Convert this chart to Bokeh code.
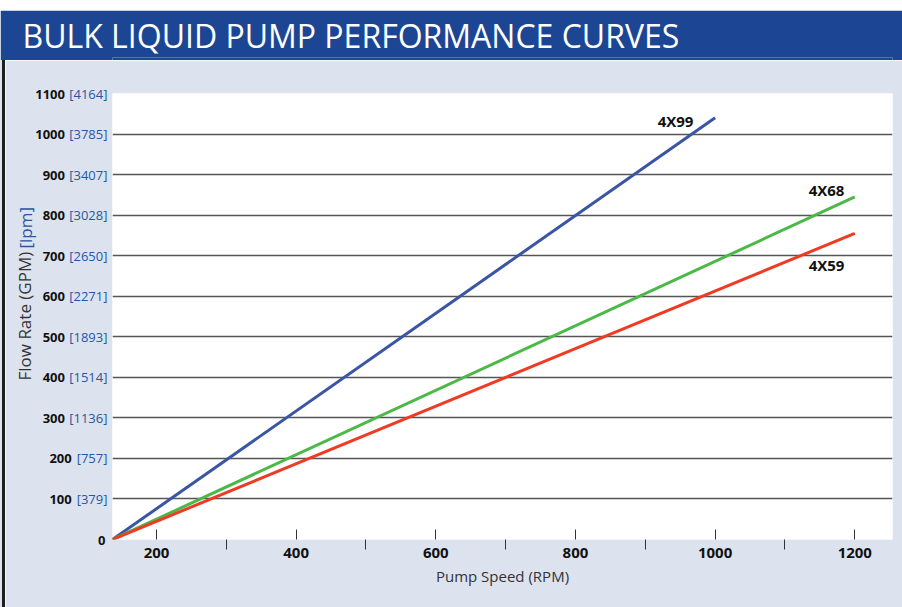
from bokeh.plotting import figure
from bokeh.layouts import column, row
from bokeh.models import (Range1d, FixedTicker, Label, LinearAxis, Title, Spacer)
from bokeh.embed import file_html
from bokeh.resources import INLINE

# ---------------- data ----------------
TITLE = "BULK LIQUID PUMP PERFORMANCE CURVES"
X_TITLE = "Pump Speed (RPM)"
Y_TITLE_MAIN = "Flow Rate (GPM)"
Y_TITLE_UNIT = "[lpm]"

FLOW_TICKS = [0, 100, 200, 300, 400, 500, 600, 700, 800, 900, 1000, 1100]
FLOW_NUM_LABELS = ["0", "100", "200", "300", "400", "500", "600", "700", "800",
                   "900", "1000", "1100"]
FLOW_LPM_LABELS = ["", "[379]", "[757]", "[1136]", "[1514]", "[1893]", "[2271]",
                   "[2650]", "[3028]", "[3407]", "[3785]", "[4164]"]
GRID_TICKS = [100, 200, 300, 400, 500, 600, 700, 800, 900, 1000, 1100]
SPEED_TICKS = [200, 400, 600, 800, 1000, 1200]
SPEED_MINOR = [300, 500, 700, 900, 1100]

MODELS = ["4X99", "4X68", "4X59"]
SPEED_4X99 = [137, 1000]
FLOW_4X99 = [0, 1040]
SPEED_4X68 = [137, 1200]
FLOW_4X68 = [0, 845]
SPEED_4X59 = [137, 1200]
FLOW_4X59 = [0, 755]

X_MIN, X_MAX = 137, 1254
Y_MIN, Y_MAX = 0, 1100

# ---------------- styles ----------------
FONT = "Open Sans"
BAND = "#1c4694"
BG = "#dce3ee"
BLUE_TXT = "#2855a5"
EDGE = "#1e1e1e"
C99 = "#3a55a4"
C68 = "#4cb848"
C59 = "#ef3b24"

# page geometry (pixels)
FL, FR, FT, FB = 112, 892, 93, 539
W, H = 902, 607
BAND_TOP, BAND_BOT = 10, 60
EDGE_L, EDGE_W = 2, 3


def px_x(page_x):
    return X_MIN + (page_x - FL) * (X_MAX - X_MIN) / (FR - FL)


def py_y(page_y):
    return Y_MIN + (FB - page_y) * (Y_MAX - Y_MIN) / (FB - FT)


# ---------------- title band ----------------
top = figure(width=W, height=BAND_BOT - BAND_TOP, toolbar_location=None,
             output_backend="svg", x_axis_type=None, y_axis_type=None,
             min_border_left=FL, min_border_right=W - FR, min_border_top=0,
             min_border_bottom=0, background_fill_color=BAND,
             border_fill_color=BAND, outline_line_color=None)
top.grid.visible = False
top.title = Title(text=TITLE, align="left", offset=22 - FL, standoff=2,
                  text_font=FONT, text_font_size="32px", text_font_style="normal",
                  text_color="white")

# ---------------- chart ----------------
PW = W - EDGE_L - EDGE_W
p = figure(width=PW, height=H - BAND_BOT, x_range=Range1d(X_MIN, X_MAX),
           y_range=Range1d(Y_MIN, Y_MAX), toolbar_location=None,
           output_backend="svg", background_fill_color="white",
           border_fill_color=BG, outline_line_color=None,
           min_border_left=FL - EDGE_L - EDGE_W, min_border_right=W - FR,
           min_border_top=FT - BAND_BOT, min_border_bottom=H - FB)

p.xgrid.visible = False
p.ygrid.ticker = FixedTicker(ticks=GRID_TICKS)
p.ygrid.grid_line_color = "#555555"
p.ygrid.grid_line_width = 1.3

xa = p.xaxis[0]
xa.ticker = FixedTicker(ticks=SPEED_TICKS, minor_ticks=SPEED_MINOR)
xa.axis_line_color = None
xa.major_tick_in = 10
xa.major_tick_out = 0
xa.minor_tick_in = 0
xa.minor_tick_out = 10
xa.major_tick_line_color = "#333333"
xa.minor_tick_line_color = "#333333"
xa.major_label_text_font = FONT
xa.major_label_text_font_size = "15px"
xa.major_label_text_font_style = "bold"
xa.major_label_text_color = "#111111"
xa.major_label_standoff = -2
xa.axis_label = X_TITLE
xa.axis_label_text_font = FONT
xa.axis_label_text_font_size = "15px"
xa.axis_label_text_font_style = "normal"
xa.axis_label_text_color = "#333333"
xa.axis_label_standoff = 5

# inner left axis: blue [lpm] values
ya = p.yaxis[0]
ya.ticker = FixedTicker(ticks=FLOW_TICKS)
ya.major_label_overrides = {t: lab for t, lab in zip(FLOW_TICKS, FLOW_LPM_LABELS)}
ya.axis_line_color = None
ya.major_tick_in = 0
ya.major_tick_out = 0
ya.minor_tick_line_color = None
ya.major_label_text_font = FONT
ya.major_label_text_font_size = "13px"
ya.major_label_text_font_style = "normal"
ya.major_label_text_color = BLUE_TXT
ya.major_label_standoff = 5

# outer left axis: black GPM values, padded so they sit just left of the [lpm] text
NBSP = "\u00a0"


def pad(lpm):
    if not lpm:
        return ""
    width = 7.5 * (len(lpm) - 2) + 7 + 4
    return NBSP * int(round(width / 3.4))


ya2 = LinearAxis(ticker=FixedTicker(ticks=FLOW_TICKS),
                 major_label_overrides={t: n + pad(b) for t, n, b in
                                        zip(FLOW_TICKS, FLOW_NUM_LABELS, FLOW_LPM_LABELS)},
                 axis_line_color=None, major_tick_in=0, major_tick_out=0,
                 minor_tick_line_color=None, major_label_text_font=FONT,
                 major_label_text_font_size="13px",
                 major_label_text_font_style="bold",
                 major_label_text_color="#111111", major_label_standoff=-39)
p.add_layout(ya2, "left")

# y axis title in two colours (second title pulled back onto the same column)
p.add_layout(Title(text=Y_TITLE_MAIN, align="left", offset=FB - 380, standoff=-6,
                   vertical_align="bottom", text_font=FONT, text_font_size="17px",
                   text_font_style="normal", text_color="#333333"), "left")
p.add_layout(Title(text=Y_TITLE_UNIT, align="left", offset=FB - 248, standoff=-46,
                   vertical_align="bottom", text_font=FONT, text_font_size="17px",
                   text_font_style="normal", text_color=BLUE_TXT), "left")

# lines
p.line(SPEED_4X99, FLOW_4X99, line_color=C99, line_width=3)
p.line(SPEED_4X68, FLOW_4X68, line_color=C68, line_width=3)
p.line(SPEED_4X59, FLOW_4X59, line_color=C59, line_width=3)

# line labels
for name, lx, ly in zip(MODELS, [px_x(675), px_x(826), px_x(826)],
                        [py_y(120), py_y(189), py_y(264)]):
    p.add_layout(Label(x=lx, y=ly, text=name, text_font=FONT, text_font_size="15px",
                       text_font_style="bold", text_color="#111111",
                       text_align="center", text_baseline="middle"))

ph = H - BAND_BOT
edge = row(Spacer(width=EDGE_L, height=ph, styles={"background-color": BG}),
           Spacer(width=EDGE_W, height=ph, styles={"background-color": EDGE}),
           p, spacing=0)
layout = column(Spacer(width=W, height=BAND_TOP), top, edge, spacing=0)
open("out.html", "w").write(file_html(layout, INLINE))
